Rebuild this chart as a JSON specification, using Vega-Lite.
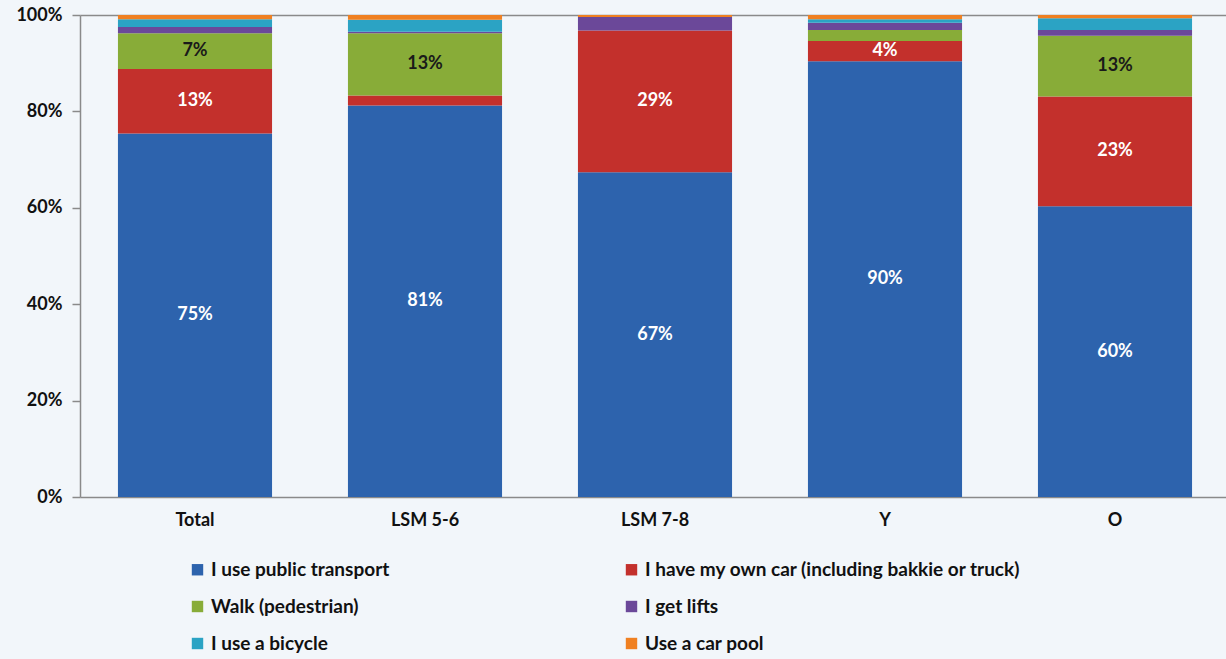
{
  "$schema": "https://vega.github.io/schema/vega-lite/v6.json",
  "width": 1150,
  "height": 482,
  "autosize": {"type": "none"},
  "padding": {"left": 80, "top": 15, "right": 0, "bottom": 162},
  "background": "#f2f6fa",
  "config": {"view": {"stroke": null}, "font": "Lato"},
  "data": {
    "values": [
      {"group": "Total", "mode": "I use public transport", "k": 1, "share": 0.754},
      {"group": "Total", "mode": "I have my own car (including bakkie or truck)", "k": 2, "share": 0.134},
      {"group": "Total", "mode": "Walk (pedestrian)", "k": 3, "share": 0.074},
      {"group": "Total", "mode": "I get lifts", "k": 4, "share": 0.013},
      {"group": "Total", "mode": "I use a bicycle", "k": 5, "share": 0.016},
      {"group": "Total", "mode": "Use a car pool", "k": 6, "share": 0.009},
      {"group": "LSM 5-6", "mode": "I use public transport", "k": 1, "share": 0.812},
      {"group": "LSM 5-6", "mode": "I have my own car (including bakkie or truck)", "k": 2, "share": 0.021},
      {"group": "LSM 5-6", "mode": "Walk (pedestrian)", "k": 3, "share": 0.129},
      {"group": "LSM 5-6", "mode": "I get lifts", "k": 4, "share": 0.003},
      {"group": "LSM 5-6", "mode": "I use a bicycle", "k": 5, "share": 0.025},
      {"group": "LSM 5-6", "mode": "Use a car pool", "k": 6, "share": 0.010},
      {"group": "LSM 7-8", "mode": "I use public transport", "k": 1, "share": 0.674},
      {"group": "LSM 7-8", "mode": "I have my own car (including bakkie or truck)", "k": 2, "share": 0.294},
      {"group": "LSM 7-8", "mode": "Walk (pedestrian)", "k": 3, "share": 0.0},
      {"group": "LSM 7-8", "mode": "I get lifts", "k": 4, "share": 0.028},
      {"group": "LSM 7-8", "mode": "I use a bicycle", "k": 5, "share": 0.0},
      {"group": "LSM 7-8", "mode": "Use a car pool", "k": 6, "share": 0.004},
      {"group": "Y", "mode": "I use public transport", "k": 1, "share": 0.904},
      {"group": "Y", "mode": "I have my own car (including bakkie or truck)", "k": 2, "share": 0.042},
      {"group": "Y", "mode": "Walk (pedestrian)", "k": 3, "share": 0.023},
      {"group": "Y", "mode": "I get lifts", "k": 4, "share": 0.015},
      {"group": "Y", "mode": "I use a bicycle", "k": 5, "share": 0.007},
      {"group": "Y", "mode": "Use a car pool", "k": 6, "share": 0.009},
      {"group": "O", "mode": "I use public transport", "k": 1, "share": 0.603},
      {"group": "O", "mode": "I have my own car (including bakkie or truck)", "k": 2, "share": 0.228},
      {"group": "O", "mode": "Walk (pedestrian)", "k": 3, "share": 0.126},
      {"group": "O", "mode": "I get lifts", "k": 4, "share": 0.012},
      {"group": "O", "mode": "I use a bicycle", "k": 5, "share": 0.024},
      {"group": "O", "mode": "Use a car pool", "k": 6, "share": 0.007}
    ]
  },
  "transform": [
    {"stack": "share", "groupby": ["group"], "sort": [{"field": "k", "order": "ascending"}], "as": ["y0", "y1"]},
    {"calculate": "(datum.y0 + datum.y1) / 2", "as": "ymid"}
  ],
  "encoding": {
    "x": {
      "field": "group",
      "type": "nominal",
      "sort": ["Total", "LSM 5-6", "LSM 7-8", "Y", "O"],
      "scale": {"paddingInner": 0.33, "paddingOuter": 0.165},
      "axis": {
        "title": null,
        "labelAngle": 0,
        "labelFontSize": 18,
        "labelFontWeight": "bold",
        "labelColor": "#111111",
        "labelPadding": 14,
        "ticks": false,
        "domainColor": "#8a8a8a",
        "domainWidth": 1.5
      }
    }
  },
  "layer": [
    {
      "mark": {"type": "bar"},
      "encoding": {
        "y": {
          "field": "y0",
          "type": "quantitative",
          "scale": {"domain": [0, 1]},
          "axis": {
            "title": null,
            "format": ".0%",
            "values": [0, 0.2, 0.4, 0.6, 0.8, 1],
            "labelFontSize": 18,
            "labelFontWeight": "bold",
            "labelColor": "#111111",
            "labelPadding": 10,
            "tickSize": 8,
            "tickColor": "#8a8a8a",
            "tickWidth": 1.5,
            "domainColor": "#8a8a8a",
            "domainWidth": 1.5,
            "grid": true,
            "gridColor": "#8a8a8a",
            "gridWidth": 1.5,
            "gridOpacity": {"condition": {"test": "datum.value === 1", "value": 1}, "value": 0}
          }
        },
        "y2": {"field": "y1"},
        "color": {
          "field": "mode",
          "type": "nominal",
          "scale": {
            "domain": ["I use public transport", "Walk (pedestrian)", "I use a bicycle", "I have my own car (including bakkie or truck)", "I get lifts", "Use a car pool"],
            "range": ["#2d63ad", "#88ac38", "#2ba3c4", "#c3302c", "#6b4899", "#f08021"]
          },
          "legend": {
            "orient": "none",
            "legendX": 108,
            "legendY": 545,
            "columns": 2,
            "title": null,
            "symbolType": "square",
            "symbolSize": 130,
            "symbolStrokeWidth": 0,
            "symbolOpacity": 1,
            "labelFontSize": 19,
            "labelFontWeight": "bold",
            "labelColor": "#111111",
            "labelLimit": 0,
            "labelOffset": 4,
            "columnPadding": 232,
            "rowPadding": 17
          }
        }
      }
    },
    {
      "transform": [{"filter": "datum.share >= 0.035"}],
      "mark": {"type": "text", "fontSize": 18, "fontWeight": "bold"},
      "encoding": {
        "y": {"field": "ymid", "type": "quantitative"},
        "text": {"field": "share", "type": "quantitative", "format": ".0%"},
        "color": {"condition": {"test": "datum.mode === 'Walk (pedestrian)'", "value": "#1a1a1a"}, "value": "#ffffff"}
      }
    }
  ]
}
